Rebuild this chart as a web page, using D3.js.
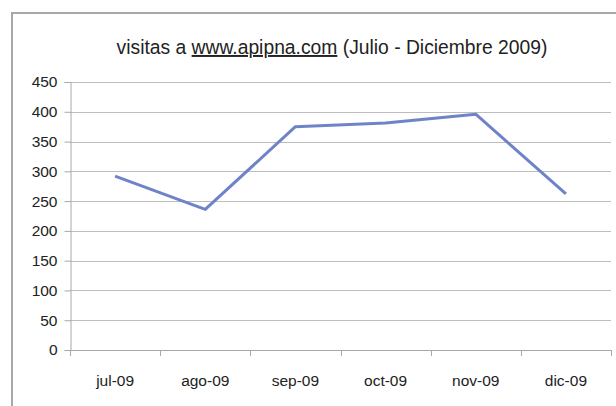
<!DOCTYPE html>
<html>
<head>
<meta charset="utf-8">
<script src="https://cdn.jsdelivr.net/npm/d3@7/dist/d3.min.js"></script>
<style>
  html, body { margin: 0; padding: 0; background: #fff; }
  svg { display: block; }
  text { font-family: "Liberation Sans", Arial, sans-serif; fill: #222; }
</style>
</head>
<body>
<svg id="chart" width="616" height="406"></svg>
<script>
const categories = ["jul-09", "ago-09", "sep-09", "oct-09", "nov-09", "dic-09"];
const visits = [292, 236, 375, 381, 396, 262];
const yTicks = [0, 50, 100, 150, 200, 250, 300, 350, 400, 450];
const titleParts = ["visitas a ", "www.apipna.com", " (Julio - Diciembre 2009)"];

const svg = d3.select("#chart");

// outer chart border (extends past right/bottom of the crop)
svg.append("rect")
  .attr("x", 12).attr("y", 13)
  .attr("width", 700).attr("height", 500)
  .attr("fill", "#fff")
  .attr("stroke", "#a8a8a8").attr("stroke-width", 2);

const x = d3.scaleBand().domain(categories).range([70, 611]).paddingInner(0).paddingOuter(0);
const y = d3.scaleLinear().domain([0, 450]).range([350, 82]);

// gridlines
svg.append("g").selectAll("line").data(yTicks).join("line")
  .attr("x1", 70).attr("x2", 611)
  .attr("y1", d => Math.round(y(d)) + 0.5).attr("y2", d => Math.round(y(d)) + 0.5)
  .attr("stroke", "#bdbdbd").attr("stroke-width", 1);

// y axis
const yAxis = d3.axisLeft(y).tickValues(yTicks).tickSize(6).tickPadding(7);
const gy = svg.append("g").attr("transform", "translate(70.5,0)").call(yAxis);
gy.select(".domain").attr("stroke", "#a8a8a8");
gy.selectAll(".tick line").attr("stroke", "#a8a8a8");
gy.selectAll(".tick text").style("font-size", "15.5px").attr("fill", "#222");

// x axis: labels centered, ticks at band edges
const xAxis = d3.axisBottom(x).tickSize(0).tickPadding(24);
const gx = svg.append("g").attr("transform", "translate(0,350.5)").call(xAxis);
gx.select(".domain").remove();
gx.selectAll(".tick text").style("font-size", "15.5px").attr("fill", "#222");
const edges = categories.map(c => x(c)).concat([x.range()[1]]);
svg.append("line").attr("x1", 70).attr("x2", 611).attr("y1", 350.5).attr("y2", 350.5)
  .attr("stroke", "#a8a8a8");
svg.append("g").selectAll("line").data(edges).join("line")
  .attr("x1", d => Math.round(d) + 0.5).attr("x2", d => Math.round(d) + 0.5)
  .attr("y1", 350).attr("y2", 356)
  .attr("stroke", "#a8a8a8");

// line
const line = d3.line()
  .x((d, i) => x(categories[i]) + x.bandwidth() / 2)
  .y(d => y(d));
svg.append("path").datum(visits)
  .attr("d", line)
  .attr("fill", "none")
  .attr("stroke", "#6f83c9")
  .attr("stroke-width", 3)
  .attr("stroke-linejoin", "round");

// title
const title = svg.append("text")
  .attr("x", 332).attr("y", 54)
  .attr("text-anchor", "middle")
  .style("font-size", "19.3px");
title.selectAll("tspan").data(titleParts).join("tspan")
  .text(d => d)
  .style("text-decoration", (d, i) => i === 1 ? "underline" : null);
</script>
</body>
</html>
